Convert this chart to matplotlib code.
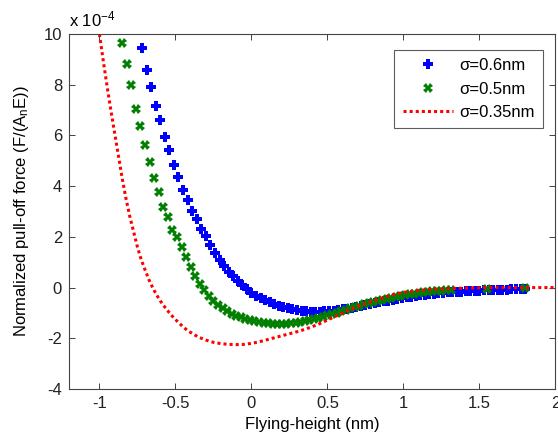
import matplotlib
matplotlib.use("Agg")
import matplotlib.pyplot as plt

plt.rcParams["font.family"] = ["Liberation Sans", "DejaVu Sans"]
plt.rcParams["mathtext.fontset"] = "custom"
plt.rcParams["mathtext.rm"] = "Liberation Sans"
plt.rcParams["mathtext.it"] = "Liberation Sans"

# sigma = 0.6 nm (blue plus markers), y in units of 1e-4
h_06 = [-0.72, -0.69, -0.66, -0.63, -0.60, -0.57, -0.54, -0.51, -0.48, -0.45,
        -0.42, -0.39, -0.36, -0.33, -0.30, -0.27, -0.24, -0.21, -0.18, -0.15,
        -0.12, -0.09, -0.06, -0.03, 0.00, 0.03, 0.06, 0.09, 0.12, 0.15,
        0.18, 0.21, 0.24, 0.27, 0.30, 0.33, 0.36, 0.39, 0.42, 0.45,
        0.48, 0.51, 0.54, 0.57, 0.60, 0.63, 0.66, 0.69, 0.72, 0.75,
        0.78, 0.81, 0.84, 0.87, 0.90, 0.93, 0.96, 0.99, 1.02, 1.05,
        1.08, 1.11, 1.14, 1.17, 1.20, 1.23, 1.26, 1.29, 1.32, 1.35,
        1.38, 1.41, 1.44, 1.47, 1.50, 1.53, 1.56, 1.59, 1.62, 1.65,
        1.68, 1.71, 1.74, 1.77, 1.80]
f_06 = [9.45, 8.60, 7.92, 7.15, 6.60, 5.92, 5.44, 4.85, 4.38, 3.85,
        3.45, 3.02, 2.70, 2.32, 2.02, 1.67, 1.36, 1.08, 0.84, 0.62,
        0.44, 0.26, 0.09, -0.07, -0.20, -0.32, -0.42, -0.50, -0.58, -0.65,
        -0.71, -0.77, -0.82, -0.86, -0.89, -0.92, -0.94, -0.95, -0.95, -0.95,
        -0.94, -0.93, -0.91, -0.89, -0.86, -0.83, -0.79, -0.76, -0.72, -0.68,
        -0.65, -0.61, -0.57, -0.54, -0.51, -0.48, -0.45, -0.42, -0.39, -0.36,
        -0.33, -0.31, -0.29, -0.27, -0.25, -0.23, -0.21, -0.19, -0.18, -0.17,
        -0.16, -0.15, -0.14, -0.13, -0.12, -0.11, -0.10, -0.10, -0.09, -0.08,
        -0.08, -0.07, -0.06, -0.06, -0.05]

# sigma = 0.5 nm (green x markers)
h_05 = [-0.85, -0.82, -0.79, -0.76, -0.73, -0.70, -0.67, -0.64, -0.61, -0.58,
        -0.55, -0.52, -0.49, -0.46, -0.43, -0.40, -0.37, -0.34, -0.31, -0.28,
        -0.25, -0.22, -0.19, -0.16, -0.13, -0.10, -0.07, -0.04, -0.01, 0.02,
        0.05, 0.08, 0.11, 0.14, 0.17, 0.20, 0.23, 0.26, 0.29, 0.32,
        0.35, 0.38, 0.41, 0.44, 0.47, 0.50, 0.53, 0.56, 0.59, 0.62,
        0.65, 0.68, 0.71, 0.74, 0.77, 0.80, 0.83, 0.86, 0.89, 0.92,
        0.95, 0.98, 1.01, 1.04, 1.07, 1.10, 1.13, 1.16, 1.19, 1.22,
        1.25, 1.28, 1.31, 1.55, 1.80]
f_05 = [9.66, 8.80, 7.98, 7.05, 6.38, 5.62, 4.97, 4.33, 3.76, 3.17,
        2.77, 2.28, 1.98, 1.62, 1.22, 0.80, 0.44, 0.15, -0.10, -0.35,
        -0.53, -0.69, -0.81, -0.93, -1.03, -1.11, -1.17, -1.22, -1.27, -1.31,
        -1.35, -1.38, -1.41, -1.43, -1.44, -1.44, -1.43, -1.41, -1.39, -1.36,
        -1.33, -1.29, -1.25, -1.20, -1.15, -1.10, -1.04, -0.99, -0.93, -0.87,
        -0.82, -0.76, -0.71, -0.66, -0.61, -0.56, -0.52, -0.48, -0.44, -0.40,
        -0.36, -0.33, -0.30, -0.27, -0.24, -0.21, -0.19, -0.17, -0.15, -0.13,
        -0.12, -0.11, -0.10, -0.05, -0.02]

# sigma = 0.35 nm (red dotted line)
h_035 = [-1.00, -0.975, -0.95, -0.925, -0.90, -0.875, -0.85, -0.825, -0.80, -0.775,
         -0.75, -0.725, -0.70, -0.675, -0.65, -0.625, -0.60, -0.575, -0.55, -0.525,
         -0.50, -0.475, -0.45, -0.425, -0.40, -0.35, -0.30, -0.25, -0.20, -0.15,
         -0.10, -0.05, 0.00, 0.05, 0.10, 0.15, 0.20, 0.25, 0.30, 0.35,
         0.40, 0.45, 0.50, 0.55, 0.60, 0.65, 0.70, 0.75, 0.80, 0.85,
         0.90, 0.95, 1.00, 1.10, 1.20, 1.30, 1.40, 1.50, 1.60, 1.80, 2.00]
f_035 = [10.0, 8.95, 7.95, 7.00, 6.10, 5.20, 4.30, 3.50, 2.80, 2.20,
         1.60, 1.10, 0.70, 0.32, 0.00, -0.28, -0.52, -0.73, -0.92, -1.10,
         -1.26, -1.40, -1.55, -1.67, -1.77, -1.95, -2.07, -2.16, -2.21, -2.24,
         -2.25, -2.24, -2.20, -2.14, -2.06, -1.98, -1.90, -1.82, -1.74, -1.65,
         -1.54, -1.42, -1.28, -1.14, -1.00, -0.86, -0.74, -0.63, -0.53, -0.43,
         -0.33, -0.25, -0.19, -0.11, -0.06, -0.04, -0.02, -0.01, 0.00, 0.00, 0.00]

labels = ["σ=0.6nm", "σ=0.5nm", "σ=0.35nm"]
xticks = [-1, -0.5, 0, 0.5, 1, 1.5, 2]
xticklabels = ["-1", "-0.5", "0", "0.5", "1", "1.5", "2"]
yticks = [-4, -2, 0, 2, 4, 6, 8, 10]
yticklabels = ["-4", "-2", "0", "2", "4", "6", "8", "10"]

fs = 12

fig = plt.figure(figsize=(5.58, 4.37), dpi=100)
ax = fig.add_axes([0.1237, 0.1098, 0.8718, 0.8124])

ax.plot(h_06, f_06, linestyle="none", marker="P", markersize=7,
        color="#0000ff", markeredgewidth=0, label=labels[0])
ax.plot(h_05, f_05, linestyle="none", marker="X", markersize=7,
        color="#007f00", markeredgewidth=0, label=labels[1])
ax.plot(h_035, f_035, linestyle=(0, (1, 1)), linewidth=2.2,
        color="#ff0000", label=labels[2])

ax.set_xlim(-1.2, 2)
ax.set_ylim(-4, 10)
ax.set_xticks(xticks)
ax.set_xticklabels(xticklabels)
ax.set_yticks(yticks)
ax.set_yticklabels(yticklabels)
ax.tick_params(direction="in", length=4, width=0.6, top=True, right=True,
               labelsize=fs, colors="#222222", pad=5)
for s in ax.spines.values():
    s.set_linewidth(0.8)
    s.set_color("#444444")

ax.set_xlabel("Flying-height (nm)", fontsize=fs, labelpad=4)
ax.set_ylabel("Normalized pull-off force (F/(A$_\\mathregular{n}$E))", fontsize=fs, labelpad=9)
ax.text(0.0, 1.012, "x 10$^{\\mathregular{-4}}$", transform=ax.transAxes,
        fontsize=fs, ha="left", va="bottom")

leg = ax.legend(loc="upper right", bbox_to_anchor=(0.975, 0.955), borderaxespad=0,
                fancybox=False, edgecolor="#333333", fontsize=fs, numpoints=1,
                handlelength=3.0, labelspacing=0.5, handletextpad=0.4,
                borderpad=0.5)
leg.get_frame().set_linewidth(0.8)

fig.savefig("out.png", dpi=100)
